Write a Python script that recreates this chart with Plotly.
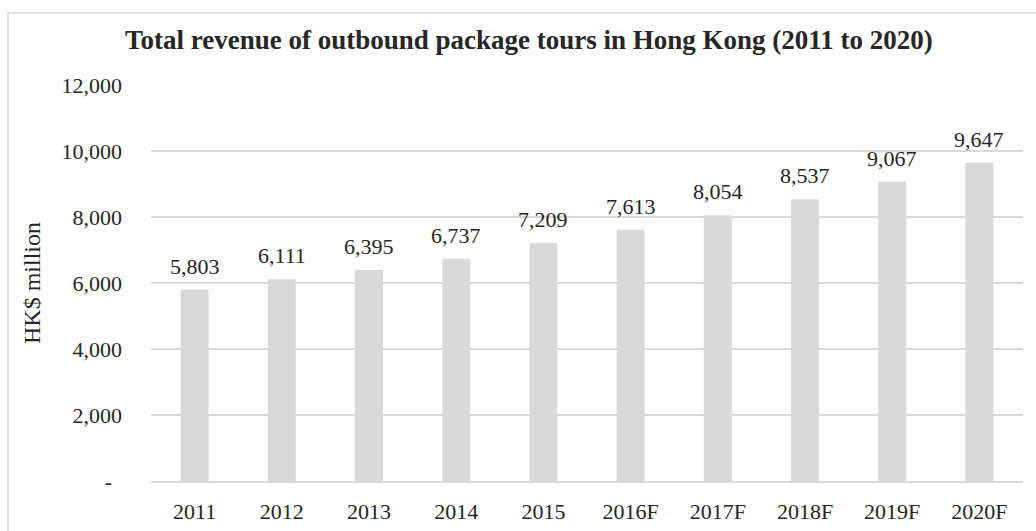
import plotly.graph_objects as go

# Annual revenue of outbound package tours, HK$ million (F = forecast)
years = ["2011", "2012", "2013", "2014", "2015", "2016F", "2017F", "2018F", "2019F", "2020F"]
revenue = [5803, 6111, 6395, 6737, 7209, 7613, 8054, 8537, 9067, 9647]

y_tick_vals = [0, 2000, 4000, 6000, 8000, 10000, 12000]
y_tick_text = ["-\u00a0\u2009", "2,000", "4,000", "6,000", "8,000", "10,000", "12,000"]

W, H = 1036, 531
L, R, T, B = 151, 13, 85, 50
plot_w = W - L - R
plot_h = H - T - B

def px_x(px):
    return (px - L) / plot_w

def px_y(py):
    return (H - B - py) / plot_h

font_family = "Liberation Serif, Times New Roman, serif"
text_color = "#262626"

fig = go.Figure(
    go.Bar(
        x=years,
        y=revenue,
        marker=dict(color="#d9d9d9", line=dict(width=0)),
        width=0.32,
        hoverinfo="x+y",
    )
)

# Value labels above each bar (positioned by category index)
value_labels = [
    dict(
        x=i,
        y=val,
        xref="x",
        yref="y",
        text=f"{val:,}",
        showarrow=False,
        xanchor="center",
        yanchor="bottom",
        yshift=9,
        font=dict(family=font_family, size=22, color=text_color),
    )
    for i, val in enumerate(revenue)
]

title_annotation = dict(
    text="<b>Total revenue of outbound package tours in Hong Kong (2011 to 2020)</b>",
    x=px_x(529),
    y=px_y(40),
    xref="paper",
    yref="paper",
    xanchor="center",
    yanchor="middle",
    showarrow=False,
    font=dict(family=font_family, size=27, color=text_color),
)

fig.update_layout(
    width=W,
    height=H,
    margin=dict(l=L, r=R, t=T, b=B),
    paper_bgcolor="white",
    plot_bgcolor="white",
    showlegend=False,
    font=dict(family=font_family, size=22, color=text_color),
    xaxis=dict(
        type="category",
        range=[-0.5, len(years) - 0.5],
        automargin=False,
        showgrid=False,
        showline=True,
        linecolor="#d9d9d9",
        linewidth=2,
        ticks="",
        ticklabelstandoff=10,
        tickfont=dict(size=22),
    ),
    yaxis=dict(
        range=[0, 12000],
        automargin=False,
        tickvals=y_tick_vals,
        ticktext=y_tick_text,
        showgrid=True,
        gridcolor="#d9d9d9",
        gridwidth=1.5,
        zeroline=False,
        showline=False,
        ticks="",
        ticklabelstandoff=28,
        tickfont=dict(size=22),
        title=dict(text="HK$ million", font=dict(size=24), standoff=14),
    ),
    annotations=value_labels + [title_annotation],
    shapes=[
        dict(
            type="rect",
            xref="paper",
            yref="paper",
            x0=px_x(8),
            x1=px_x(1060),
            y0=px_y(560),
            y1=px_y(13),
            line=dict(color="#d9d9d9", width=1.5),
            fillcolor="rgba(0,0,0,0)",
            layer="below",
        )
    ],
)

fig.write_html("out.html")
